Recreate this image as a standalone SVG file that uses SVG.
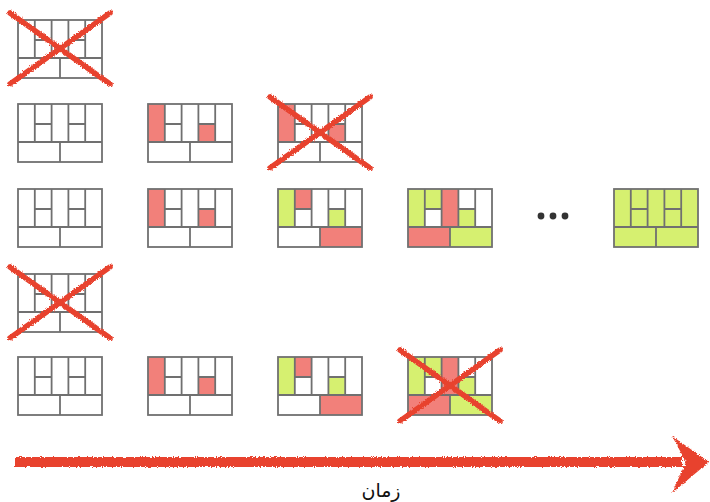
<svg xmlns="http://www.w3.org/2000/svg" xmlns:xlink="http://www.w3.org/1999/xlink" width="710" height="502" viewBox="0 0 710 502">
<style>
.g{fill:none;stroke:#707070;stroke-width:1.8}
.w{fill:#fff}
.r{fill:#F2807A}
.v{fill:#D6F070}
.x{stroke:#E8432F;stroke-width:5.5;stroke-linecap:round;fill:none;filter:url(#rough)}
.t{font-family:"DejaVu Sans","Noto Sans",sans-serif;font-size:19px;fill:#111}
</style>
<defs>
<filter id="rough" x="-10%" y="-10%" width="120%" height="120%">
<feTurbulence type="fractalNoise" baseFrequency="0.9" numOctaves="2" seed="3" result="n"/>
<feDisplacementMap in="SourceGraphic" in2="n" scale="3.5" xChannelSelector="R" yChannelSelector="G"/>
</filter>
<g id="grid">
<rect class="g" x="0" y="0" width="84" height="58"/>
<path class="g" d="M0 38H84M16.8 0V38M33.6 0V38M50.4 0V38M67.2 0V38M16.8 20H33.6M50.4 20H67.2M42 38V58"/>
</g>
<g id="sA">
<rect class="w" x="0" y="0" width="84" height="58"/>
<use href="#grid"/>
</g>
<g id="sB">
<rect class="w" x="0" y="0" width="84" height="58"/>
<rect class="r" x="0" y="0" width="16.8" height="38"/>
<rect class="r" x="50.4" y="20" width="16.8" height="18"/>
<use href="#grid"/>
</g>
<g id="sC">
<rect class="w" x="0" y="0" width="84" height="58"/>
<rect class="v" x="0" y="0" width="16.8" height="38"/>
<rect class="r" x="16.8" y="0" width="16.8" height="20"/>
<rect class="v" x="50.4" y="20" width="16.8" height="18"/>
<rect class="r" x="42" y="38" width="42" height="20"/>
<use href="#grid"/>
</g>
<g id="sD">
<rect class="w" x="0" y="0" width="84" height="58"/>
<rect class="v" x="0" y="0" width="16.8" height="38"/>
<rect class="v" x="16.8" y="0" width="16.8" height="20"/>
<rect class="r" x="33.6" y="0" width="16.8" height="38"/>
<rect class="v" x="50.4" y="20" width="16.8" height="18"/>
<rect class="r" x="0" y="38" width="42" height="20"/>
<rect class="v" x="42" y="38" width="42" height="20"/>
<use href="#grid"/>
</g>
<g id="sE">
<rect class="v" x="0" y="0" width="84" height="58"/>
<use href="#grid"/>
</g>
<g id="cross">
<path class="x" d="M-8 -7L92 64M92 -7L-8 64"/>
</g>
</defs>

<g id="r0c0" transform="translate(18,20)"><use href="#sA"/><use href="#cross"/></g>

<g id="r1c0" transform="translate(18,104)"><use href="#sA"/></g>
<g id="r1c1" transform="translate(148,104)"><use href="#sB"/></g>
<g id="r1c2" transform="translate(278,104)"><use href="#sB"/><use href="#cross"/></g>

<g id="r2c0" transform="translate(18,189)"><use href="#sA"/></g>
<g id="r2c1" transform="translate(148,189)"><use href="#sB"/></g>
<g id="r2c2" transform="translate(278,189)"><use href="#sC"/></g>
<g id="r2c3" transform="translate(408,189)"><use href="#sD"/></g>
<g id="dots" fill="#333"><circle cx="541" cy="216" r="3.4"/><circle cx="553" cy="216" r="3.4"/><circle cx="565" cy="216" r="3.4"/></g>
<g id="r2c5" transform="translate(614,189)"><use href="#sE"/></g>

<g id="r3c0" transform="translate(18,274)"><use href="#sA"/><use href="#cross"/></g>

<g id="r4c0" transform="translate(18,357)"><use href="#sA"/></g>
<g id="r4c1" transform="translate(148,357)"><use href="#sB"/></g>
<g id="r4c2" transform="translate(278,357)"><use href="#sC"/></g>
<g id="r4c3" transform="translate(408,357)"><use href="#sD"/><use href="#cross"/></g>

<g id="connectors" filter="url(#rough)">
<path d="M15 462H682" stroke="#E8432F" stroke-width="10" fill="none"/>
<polygon points="672,436 709,462 672,493 686,462" fill="#E8432F"/>
</g>
<text class="t" x="381" y="497" text-anchor="middle">زمان</text>
</svg>
